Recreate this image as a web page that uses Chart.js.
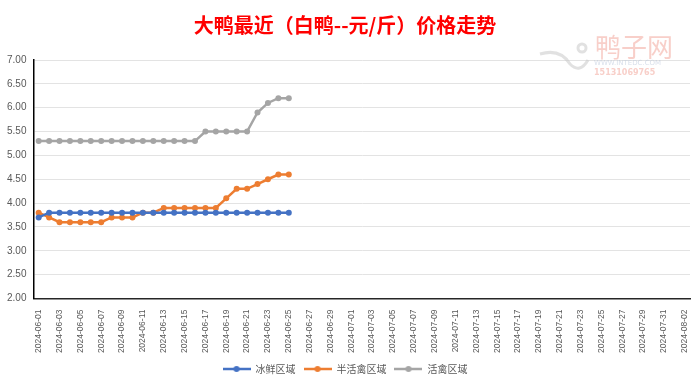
<!DOCTYPE html>
<html>
<head>
<meta charset="utf-8">
<script src="https://cdn.jsdelivr.net/npm/chart.js@4/dist/chart.umd.min.js"></script>
<style>
html,body{margin:0;padding:0;background:#fff;}
#wrap{width:700px;height:384px;position:relative;}
</style>
</head>
<body>
<div id="wrap"><canvas id="c" width="700" height="384"></canvas></div>
<script>
const categories = [
"2024-06-01","2024-06-02","2024-06-03","2024-06-04","2024-06-05","2024-06-06","2024-06-07","2024-06-08","2024-06-09","2024-06-10",
"2024-06-11","2024-06-12","2024-06-13","2024-06-14","2024-06-15","2024-06-16","2024-06-17","2024-06-18","2024-06-19","2024-06-20",
"2024-06-21","2024-06-22","2024-06-23","2024-06-24","2024-06-25","2024-06-26","2024-06-27","2024-06-28","2024-06-29","2024-06-30",
"2024-07-01","2024-07-02","2024-07-03","2024-07-04","2024-07-05","2024-07-06","2024-07-07","2024-07-08","2024-07-09","2024-07-10",
"2024-07-11","2024-07-12","2024-07-13","2024-07-14","2024-07-15","2024-07-16","2024-07-17","2024-07-18","2024-07-19","2024-07-20",
"2024-07-21","2024-07-22","2024-07-23","2024-07-24","2024-07-25","2024-07-26","2024-07-27","2024-07-28","2024-07-29","2024-07-30",
"2024-07-31","2024-08-01","2024-08-02"
];
const seriesNames = ["冰鲜区域","半活禽区域","活禽区域"];
const iceFresh = [3.7,3.8,3.8,3.8,3.8,3.8,3.8,3.8,3.8,3.8,3.8,3.8,3.8,3.8,3.8,3.8,3.8,3.8,3.8,3.8,3.8,3.8,3.8,3.8,3.8];
const semiLive = [3.8,3.7,3.6,3.6,3.6,3.6,3.6,3.7,3.7,3.7,3.8,3.8,3.9,3.9,3.9,3.9,3.9,3.9,4.1,4.3,4.3,4.4,4.5,4.6,4.6];
const live = [5.3,5.3,5.3,5.3,5.3,5.3,5.3,5.3,5.3,5.3,5.3,5.3,5.3,5.3,5.3,5.3,5.5,5.5,5.5,5.5,5.5,5.9,6.1,6.2,6.2];
const yMin = 2.0, yMax = 7.0, yStep = 0.5;
const titleText = "大鸭最近（白鸭--元/斤）价格走势";
const colors = ["#4472C4","#ED7D31","#A5A5A5"];

function legendIcon(color){
  const c = document.createElement('canvas');
  c.width = 28; c.height = 10;
  const g = c.getContext('2d');
  g.strokeStyle = color; g.lineWidth = 2.5;
  g.beginPath(); g.moveTo(0,5); g.lineTo(28,5); g.stroke();
  g.fillStyle = color; g.beginPath(); g.arc(14,5,3,0,Math.PI*2); g.fill();
  return c;
}

const watermark = {
  id:'watermark',
  afterDraw(chart){
    const ctx = chart.ctx;
    ctx.save();
    ctx.globalAlpha = 0.55;
    ctx.fillStyle = '#f2a79c';
    ctx.font = '26px "Noto Sans CJK SC"';
    ctx.textBaseline = 'middle';
    ctx.fillText('鸭子网', 595, 47);
    ctx.fillStyle = '#b8c4d8';
    ctx.font = '7px "DejaVu Sans"';
    ctx.fillText('WWW.INTEDC.COM', 594, 63);
    ctx.fillStyle = '#f2a79c';
    ctx.font = 'bold 8px "DejaVu Sans"';
    ctx.fillText('15131069765', 594, 73);
    ctx.strokeStyle = '#c8c8c8'; ctx.lineWidth = 3;
    ctx.beginPath();
    ctx.moveTo(540,54); ctx.quadraticCurveTo(560,48,570,64); ctx.quadraticCurveTo(580,74,588,60);
    ctx.stroke();
    ctx.beginPath(); ctx.arc(582,48,4,0,Math.PI*2); ctx.stroke();
    ctx.restore();
  }
};

const mk = (i, data) => ({
  label: seriesNames[i], data, borderColor: colors[i], backgroundColor: colors[i],
  borderWidth: 2.5, pointRadius: 3, pointHoverRadius: 3, pointBackgroundColor: colors[i],
  pointBorderWidth: 0, tension: 0, pointStyle: 'circle'
});

new Chart(document.getElementById('c'), {
  type: 'line',
  data: { labels: categories, datasets: [mk(0, iceFresh), mk(1, semiLive), mk(2, live)] },
  options: {
    responsive: false, animation: false,
    layout: { padding: { left: 0, right: 10, top: 6, bottom: 0 } },
    plugins: {
      title: { display: true, text: titleText, color: '#FF0000',
        font: { family: '"Noto Sans CJK SC"', size: 20, weight: 'bold' }, padding: { top: 7, bottom: 23 } },
      legend: { position: 'bottom',
        labels: { color: '#595959', font: { family: '"Noto Sans CJK SC"', size: 10 }, boxWidth: 28, boxHeight: 10,
          pointStyleWidth: 28, padding: 8, usePointStyle: true,
          generateLabels(chart){
            return chart.data.datasets.map((d,i)=>({ text: d.label, pointStyle: legendIcon(colors[i]),
              fillStyle: colors[i], strokeStyle: colors[i], lineWidth: 0, datasetIndex: i, fontColor:'#595959' }));
          } } },
      tooltip: { enabled: false }
    },
    scales: {
      x: {
        offset: true,
        grid: { display: false },
        border: { color: '#262626', width: 1.5 },
        ticks: { autoSkip: false, maxRotation: 90, minRotation: 90, color: '#595959',
          font: { family: '"Liberation Sans"', size: 8.5 }, padding: 3,
          callback(v, i){ return i % 2 === 0 ? categories[i] : null; } }
      },
      y: {
        min: yMin, max: yMax,
        grid: { color: '#e3e3e3', lineWidth: 1, drawTicks: false },
        border: { color: '#000', width: 1.5 },
        ticks: { stepSize: yStep, color: '#595959', font: { family: '"Liberation Sans"', size: 10 }, padding: 7,
          callback(v){ return Number(v).toFixed(2); } }
      }
    }
  },
  plugins: [watermark]
});
</script>
</body>
</html>
